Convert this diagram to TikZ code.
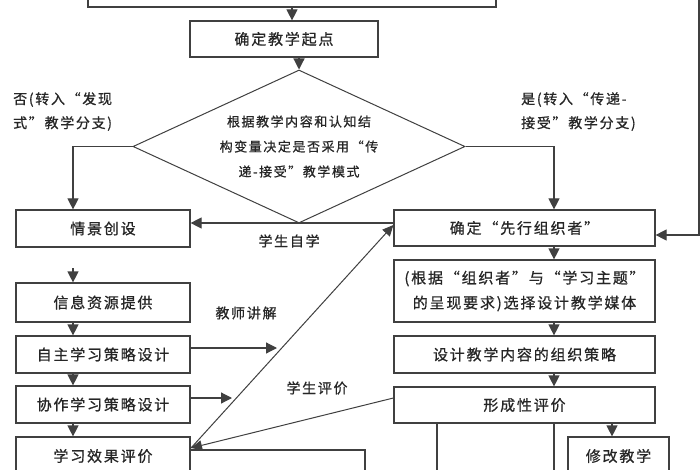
\documentclass[tikz,border=0pt]{standalone}
\usepackage{fontspec}
\usetikzlibrary{arrows.meta,shapes.geometric,calc}
\newfontfamily\cjk[LetterSpace=12,FakeBold=0.8]{Noto Sans CJK SC}
\newcommand\boxfont{\cjk\fontsize{15}{25}\selectfont}
\newcommand\dfont{\cjk\fontsize{13}{25}\selectfont}
\newcommand\lblfont{\cjk\fontsize{14}{24}\selectfont}
\begin{document}
\begin{tikzpicture}[x=1pt,y=-1pt,
  bx/.style={draw=black!75, line width=1.2pt, inner sep=0pt, align=center, font=\boxfont, text=black!85},
  ln/.style={draw=black!75, line width=1.2pt},
  arr/.style={ln, -{Triangle[length=11pt,width=11pt]}},
  thinarr/.style={draw=black!75, line width=1pt, -{Triangle[length=11pt,width=10pt]}},
  lbl/.style={font=\lblfont, text=black!85, inner sep=0pt}]
\useasboundingbox (0,0) rectangle (700,470);
\fill[white] (0,0) rectangle (700,470);

% boxes
\node[bx, minimum width=408pt, minimum height=40pt] (top) at (292,-13) {};
\node[bx, minimum width=188pt, minimum height=36pt] (qd) at (284,39) {确定教学起点};
\node[bx, diamond, line width=1pt, shape aspect=2.17, minimum width=332pt, minimum height=153pt, font=\dfont] (dm) at (299,146.5) {根据教学内容和认知结\\构变量决定是否采用“传\\递-接受”教学模式};

\node[bx, minimum width=174pt, minimum height=37pt] (qj) at (103,228.5) {情景创设};
\node[bx, minimum width=261pt, minimum height=36pt] (xx) at (524.5,228) {确定“先行组织者”};
\node[bx, minimum width=174pt, minimum height=39pt] (xz) at (103,302.5) {信息资源提供};
\node[bx, minimum width=174pt, minimum height=37pt] (zz) at (103,354.5) {自主学习策略设计};
\node[bx, minimum width=174pt, minimum height=37pt] (xz2) at (103,404.5) {协作学习策略设计};
\node[bx, minimum width=174pt, minimum height=38pt] (xg) at (103,456) {学习效果评价};
\node[bx, minimum width=261pt, minimum height=62pt] (mt) at (524.5,291) {(根据“组织者”与“学习主题”\\的呈现要求)选择设计教学媒体};
\node[bx, minimum width=261pt, minimum height=37pt] (cl) at (524.5,354.5) {设计教学内容的组织策略};
\node[bx, minimum width=261pt, minimum height=36pt] (xc) at (524.5,405) {形成性评价};
\node[bx, minimum width=101pt, minimum height=38pt] (xg2) at (618.5,456) {修改教学};

% labels
\node[lbl, anchor=north west, align=left] (no) at (13,92) {否(转入“发现\\式”教学分支)};
\node[lbl, anchor=north west, align=left] (yes) at (521,92) {是(转入“传递-\\接受”教学分支)};
\node[lbl] (zx) at (289,241) {学生自学};
\node[lbl] (js) at (246,313) {教师讲解};
\node[lbl] (xp) at (317,388) {学生评价};

% helper coordinates
\coordinate (ax) at (292,0);
\coordinate (lc) at (73,0);
\coordinate (rc) at (554,0);
\coordinate (h1) at (0,223);
\coordinate (fbt) at (699,-5);
\coordinate (fbm) at (699,235);
\coordinate (s1) at (73,268);
\coordinate (e1) at (277,348);
\coordinate (e2) at (232,398);
\coordinate (pg) at (191,448);
\coordinate (pt) at (0,225);
\coordinate (pc) at (0,398);
\coordinate (h450) at (0,450);
\coordinate (b1) at (365,475);
\coordinate (v1) at (437,475);
\coordinate (v2) at (554,475);
\coordinate (mx) at (612,0);

% connectors
\draw[arr] (top.south -| ax) -- (qd.north -| ax);
\draw[arr] (qd.south -| dm.north) -- (dm.north);
\draw[arr] (dm.west) -| (lc |- qj.north);
\draw[arr] (dm.east) -| (rc |- xx.north);
\draw[arr] (xx.west |- h1) -- (qj.east |- h1);
\draw[arr] (fbt) -- (fbm) -- (xx.east |- fbm);

\draw[arr] (s1) -- (s1 |- xz.north);
\draw[arr] (xz.south -| lc) -- (zz.north -| lc);
\draw[arr] (zz.south -| lc) -- (xz2.north -| lc);
\draw[arr] (xz2.south -| lc) -- (xg.north -| lc);

\draw[arr] (xx.south -| rc) -- (mt.north -| rc);
\draw[arr] (mt.south -| rc) -- (cl.north -| rc);
\draw[arr] (cl.south -| rc) -- (xc.north -| rc);

\draw[arr] (zz.east |- e1) -- (e1);
\draw[arr] (xz2.east |- e2) -- (e2);

\draw[thinarr] (pg) -- (xx.west |- pt);
\draw[thinarr] (xc.west |- pc) -- (pg);

\draw[ln] (xg.east |- h450) -| (b1);
\draw[ln] (xc.south -| v1) -- (v1);
\draw[ln] (xc.south -| v2) -- (v2);
\draw[arr] (xc.south -| mx) -- (xg2.north -| mx);
\end{tikzpicture}
\end{document}
